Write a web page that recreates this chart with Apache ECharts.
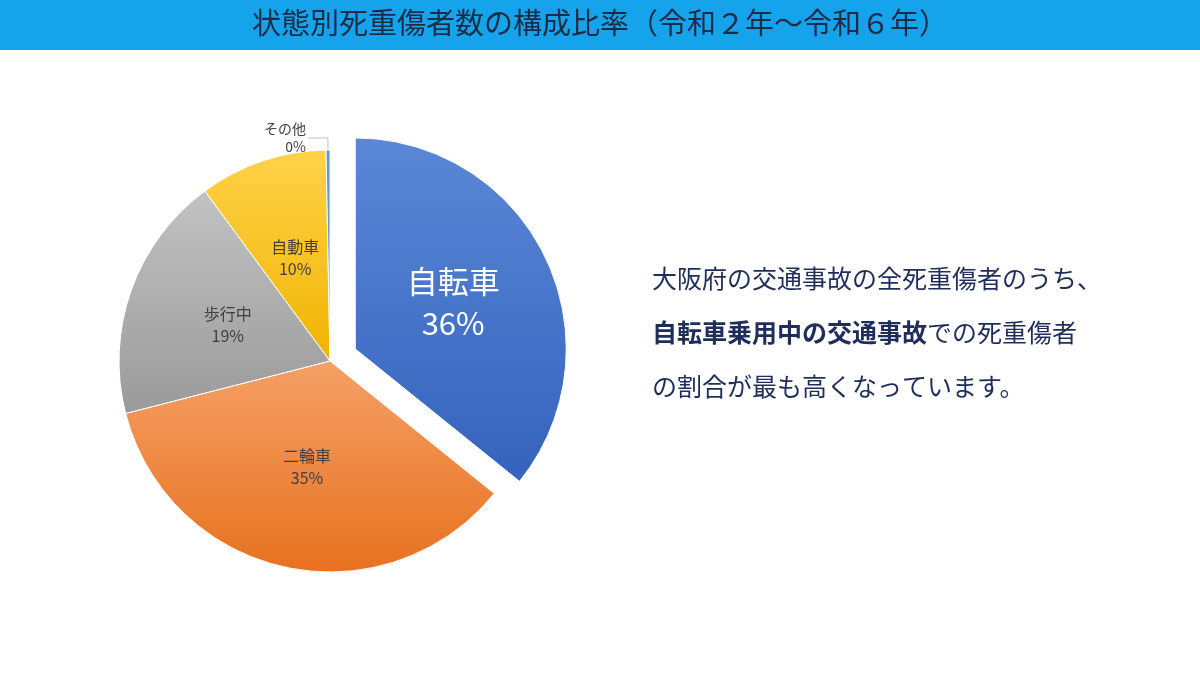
<!DOCTYPE html>
<html><head><meta charset="utf-8">
<script src="https://cdn.jsdelivr.net/npm/echarts@6/dist/echarts.min.js"></script>
<style>html,body{margin:0;padding:0;background:#fff}#c{width:1200px;height:675px}</style>
</head><body><div id="c"></div>
<script>
const categories = ['自転車','二輪車','歩行中','自動車','その他'];
const values = [35.8, 35.2, 18.9, 9.8, 0.3];
const labels = ['36%','35%','19%','10%','0%'];
const colors = [
  {type:'linear',x:0,y:0,x2:0,y2:1,colorStops:[{offset:0,color:'#5a87d6'},{offset:1,color:'#3563bd'}]},
  {type:'linear',x:0,y:0,x2:0,y2:1,colorStops:[{offset:0,color:'#f5a066'},{offset:1,color:'#e8711f'}]},
  {type:'linear',x:0,y:0,x2:0,y2:1,colorStops:[{offset:0,color:'#c2c2c2'},{offset:1,color:'#9a9a9a'}]},
  {type:'linear',x:0,y:0,x2:0,y2:1,colorStops:[{offset:0,color:'#ffd24a'},{offset:1,color:'#f0b400'}]},
  '#5b9bd5'
];
const font = '"Noto Sans CJK JP", sans-serif';
const chart = echarts.init(document.getElementById('c'));
const data = categories.map((n,i)=>{
  const d = {name:n, value:values[i], itemStyle:{color:colors[i]}};
  if(i===0){ d.selected = true; d.label = {fontSize:31, color:'#fff', lineHeight:42}; }
  if(i===4){ d.label = {position:'outside', color:'#404040', fontSize:14, lineHeight:18, distanceToLabelLine:2}; d.labelLine={show:true, length:12, length2:20, lineStyle:{color:'#bfbfbf'}}; }
  return d;
});
chart.setOption({
  animation:false,
  graphic:[
    {type:'rect', shape:{x:0,y:0,width:1200,height:50}, style:{fill:'#15a3eb'}},
    {type:'text', left:'center', top:8, style:{text:'状態別死重傷者数の構成比率（令和２年～令和６年）', font:'29px '+font, fill:'#1f2a44'}},
    {type:'text', left:652, top:266, style:{
      text:'{n|大阪府の交通事故の全死重傷者のうち、}\n{b|自転車乗用中の交通事故}{n|での死重傷者}\n{n|の割合が最も高くなっています。}',
      rich:{n:{font:'25px '+font, fill:'#1f2d5a', lineHeight:54}, b:{font:'bold 25px '+font, fill:'#1f2d5a', lineHeight:54}}
    }}
  ],
  series:[{
    type:'pie', center:[330,361], radius:211, startAngle:90, clockwise:true,
    selectedMode:'single', selectedOffset:28,
    label:{show:true, position:'inside', formatter:p=>p.name+'\n'+labels[p.dataIndex], color:'#404040', fontSize:16, lineHeight:22, fontFamily:font},
    labelLine:{show:false},
    itemStyle:{borderColor:'#fff', borderWidth:1},
    emphasis:{disabled:true},
    data:data
  }]
});
</script></body></html>
